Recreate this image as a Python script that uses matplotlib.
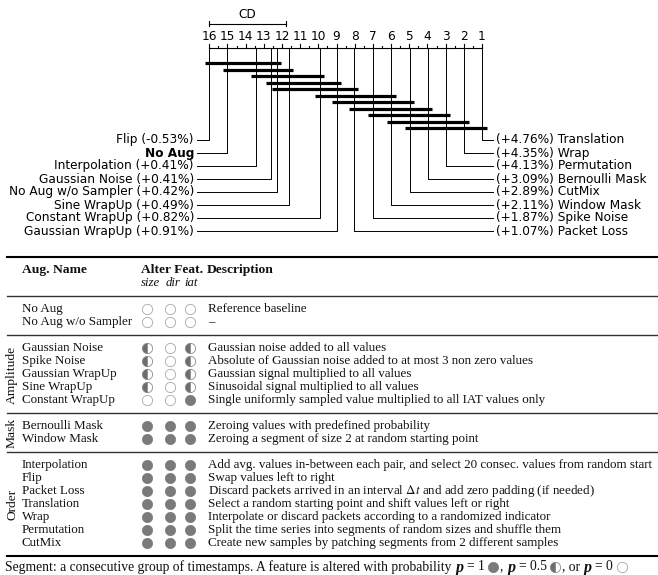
import numpy as np
import matplotlib.pyplot as plt

W, H = 658, 575

# ---- critical difference diagram: average rank of every augmentation (1 = best)
left_names = ['Flip', 'No Aug', 'Interpolation', 'Gaussian Noise',
              'No Aug w/o Sampler', 'Sine WrapUp', 'Constant WrapUp', 'Gaussian WrapUp']
left_gain = ['-0.53', None, '+0.41', '+0.41', '+0.42', '+0.49', '+0.82', '+0.91']
left_rank = [16.0, 15.0, 13.43, 12.62, 12.29, 11.63, 9.93, 9.0]

right_names = ['Translation', 'Wrap', 'Permutation', 'Bernoulli Mask',
               'CutMix', 'Window Mask', 'Spike Noise', 'Packet Loss']
right_gain = ['+4.76', '+4.35', '+4.13', '+3.09', '+2.89', '+2.11', '+1.87', '+1.07']
right_rank = [1.0, 1.97, 2.99, 3.98, 4.97, 6.0, 7.0, 8.05]

cd_value = 4.2
# groups of methods not significantly different (first, last member)
cliques = [('Flip', 'No Aug w/o Sampler'), ('No Aug', 'Sine WrapUp'),
           ('Interpolation', 'Constant WrapUp'), ('Gaussian Noise', 'Gaussian WrapUp'),
           ('No Aug w/o Sampler', 'Packet Loss'), ('Constant WrapUp', 'Window Mask'),
           ('Gaussian WrapUp', 'CutMix'), ('Packet Loss', 'Bernoulli Mask'),
           ('Spike Noise', 'Permutation'), ('Window Mask', 'Wrap'),
           ('CutMix', 'Translation')]

# ---- table of augmentations
tab_groups = ['', 'Amplitude', 'Mask', 'Order']
tab_group_sizes = [2, 5, 2, 7]
tab_names = ['No Aug', 'No Aug w/o Sampler',
             'Gaussian Noise', 'Spike Noise', 'Gaussian WrapUp', 'Sine WrapUp', 'Constant WrapUp',
             'Bernoulli Mask', 'Window Mask',
             'Interpolation', 'Flip', 'Packet Loss', 'Translation', 'Wrap', 'Permutation', 'CutMix']
p_size = [0, 0, 0.5, 0.5, 0.5, 0.5, 0, 1, 1, 1, 1, 1, 1, 1, 1, 1]
p_dir = [0, 0, 0, 0, 0, 0, 0, 1, 1, 1, 1, 1, 1, 1, 1, 1]
p_iat = [0, 0, 0.5, 0.5, 0.5, 0.5, 1, 1, 1, 1, 1, 1, 1, 1, 1, 1]
descriptions = [
    'Reference baseline',
    '\u2013',
    'Gaussian noise added to all values',
    'Absolute of Gaussian noise added to at most 3 non zero values',
    'Gaussian signal multiplied to all values',
    'Sinusoidal signal multiplied to all values',
    'Single uniformly sampled value multiplied to all IAT values only',
    'Zeroing values with predefined probability',
    'Zeroing a segment of size 2 at random starting point',
    'Add avg. values in-between each pair, and select 20 consec. values from random start',
    'Swap values left to right',
    r'Discard packets arrived in an interval $\Delta t$ and add zero padding (if needed)',
    'Select a random starting point and shift values left or right',
    'Interpolate or discard packets according to a randomized indicator',
    'Split the time series into segments of random sizes and shuffle them',
    'Create new samples by patching segments from 2 different samples',
]
caption = 'Segment: a consecutive group of timestamps. A feature is altered with probability'

plt.rcParams['mathtext.fontset'] = 'stix'
SERIF = 'Liberation Serif'
BODY = 9.4
FULL, HALF, LIGHT = '#7a7a7a', '#6e6e6e', '#a8a8a8'

fig = plt.figure(figsize=(W / 100, H / 100), dpi=100)

# ================= CD diagram (x in rank units, y in pixels from top)
ax = fig.add_axes([0, 0, 1, 1])
R16_PX, UNIT = 209.3, 18.18


def rk(px):
    # pixel column -> rank value on the CD axis
    return 16 - (px - R16_PX) / UNIT


ax.set_xlim(rk(0), rk(W))
ax.set_ylim(H, 0)
ax.axis('off')

AXIS_Y = 48
ax.plot([16, 1], [AXIS_Y, AXIS_Y], color='k', lw=0.8)
for r in np.arange(1, 16.01, 0.5):
    top = AXIS_Y - (4.5 if r == int(r) else 2)
    ax.plot([r, r], [top, AXIS_Y], color='k', lw=0.8)
for r in range(1, 17):
    ax.text(r, 37, str(r), ha='center', va='center', fontsize=8.7)

# CD bracket
ax.plot([16, 16 - cd_value], [23.5, 23.5], color='k', lw=0.8)
for r in (16, 16 - cd_value):
    ax.plot([r, r], [21, 26], color='k', lw=0.8)
ax.text(16 - cd_value / 2, 14.5, 'CD', ha='center', va='center', fontsize=8.7)

LAB_Y0, LAB_DY = 140, 13
for i, (name, gain, r) in enumerate(zip(left_names, left_gain, left_rank)):
    y = LAB_Y0 + LAB_DY * i
    ax.plot([r, r, rk(197)], [AXIS_Y, y, y], color='k', lw=0.7)
    if gain is None:
        ax.text(rk(194), y, name, ha='right', va='center', fontsize=8.7, fontweight='bold')
    else:
        ax.text(rk(194), y, f'{name} ({gain}%)', ha='right', va='center', fontsize=8.7)
for i, (name, gain, r) in enumerate(zip(right_names, right_gain, right_rank)):
    y = LAB_Y0 + LAB_DY * i
    ax.plot([r, r, rk(493)], [AXIS_Y, y, y], color='k', lw=0.7)
    ax.text(rk(496), y, f'({gain}%) {name}', ha='left', va='center', fontsize=8.7)

rank_of = dict(zip(left_names + right_names, left_rank + right_rank))
for j, (a, b) in enumerate(cliques):
    y = 63.3 + 6.5 * j
    ax.plot([rank_of[a] + 0.25, rank_of[b] - 0.25], [y, y], color='k', lw=2.3,
            solid_capstyle='butt')

# ================= table (pixel layout)
tx = fig.add_axes([0, 0, 1, 1])
tx.set_xlim(0, W)
tx.set_ylim(H, 0)
tx.axis('off')

X0, X1 = 7, 657
NAME_X, GROUP_X, DESC_X = 22, 12, 208
COL_X = [147, 170, 189.5]
ROW = 13.0
TXT = '#111111'

y = 257
tx.plot([X0, X1], [y, y], color='k', lw=1.5)
tx.text(NAME_X, y + ROW, 'Aug. Name', fontfamily=SERIF, fontweight='bold', fontsize=9.7,
        ha='left', va='center', color=TXT)
tx.text(141, y + ROW, 'Alter Feat.', fontfamily=SERIF, fontweight='bold', fontsize=9.7,
        ha='left', va='center', color=TXT)
tx.text(DESC_X - 1, y + ROW, 'Description', fontfamily=SERIF, fontweight='bold', fontsize=9.7,
        ha='left', va='center', color=TXT)
for lab, cx in zip(['size', 'dir', 'iat'], [150.5, 173, 191]):
    tx.text(cx, y + 2 * ROW, lab, fontfamily=SERIF, fontstyle='italic', fontsize=9.2,
            ha='center', va='center', color=TXT)
y += 3 * ROW
tx.plot([X0, X1], [y, y], color='#333333', lw=1.0)

row_y = []
k = 0
for group, n in zip(tab_groups, tab_group_sizes):
    ys = [y + ROW * (m + 1) for m in range(n)]
    row_y += ys
    if group:
        tx.text(GROUP_X, (ys[0] + ys[-1]) / 2 + 0.5, group, rotation=90, fontfamily=SERIF,
                fontsize=BODY + 0.3, ha='center', va='center', color=TXT)
    for yy in ys:
        tx.text(NAME_X, yy, tab_names[k], fontfamily=SERIF, fontsize=BODY,
                ha='left', va='center', color=TXT)
        tx.text(DESC_X, yy, descriptions[k], fontfamily=SERIF, fontsize=BODY,
                ha='left', va='center', color=TXT)
        k += 1
    y += ROW * (n + 1)
    last = group == tab_groups[-1]
    tx.plot([X0, X1], [y, y], color='k' if last else '#333333', lw=1.5 if last else 1.0)

MS = 7.4


def draw_marks(axis, xs, ys, ps):
    xs, ys, ps = np.asarray(xs, float), np.asarray(ys, float), np.asarray(ps, float)
    f = ps >= 1
    h = (ps > 0) & (ps < 1)
    e = ps == 0
    axis.plot(xs[f], ys[f], 'o', ms=MS, mfc=FULL, mec=FULL, mew=0.5, ls='none')
    axis.plot(xs[h], ys[h], 'o', ms=MS, fillstyle='left', mfc=HALF, mfcalt='white',
              mec='#8a8a8a', mew=0.6, ls='none')
    axis.plot(xs[e], ys[e], 'o', ms=MS, mfc='white', mec=LIGHT, mew=0.6, ls='none')


for cx, ps in zip(COL_X, [p_size, p_dir, p_iat]):
    draw_marks(tx, [cx] * len(ps), row_y, ps)

# caption with inline legend markers
renderer = fig.canvas.get_renderer()
inv = tx.transData.inverted()
cap_y = y + 11
CAP = 9.8
pieces = [('t', caption, 0), ('p', 'p', 3.5), ('t', '= 1', 4), ('m', 1.0, 3.5),
          ('t', ',', 1.5), ('p', 'p', 3.5), ('t', '= 0.5', 4), ('m', 0.5, 3.5),
          ('t', ', or', 1.5), ('p', 'p', 3.5), ('t', '= 0', 4), ('m', 0.0, 3.5)]
cx = 5
for kind, val, gap in pieces:
    cx += gap
    if kind == 'm':
        draw_marks(tx, [cx + 5], [cap_y], [val])
        cx += 10
        continue
    if kind == 'p':
        t = tx.text(cx, cap_y + 0.5, val, fontfamily=SERIF, fontsize=11.5, fontweight='bold',
                    fontstyle='italic', ha='left', va='center', color=TXT)
    else:
        t = tx.text(cx, cap_y, val, fontfamily=SERIF, fontsize=CAP, ha='left',
                    va='center', color=TXT)
    bb = t.get_window_extent(renderer)
    cx = inv.transform((bb.x1, bb.y0))[0]

fig.savefig('out.png', dpi=100)
